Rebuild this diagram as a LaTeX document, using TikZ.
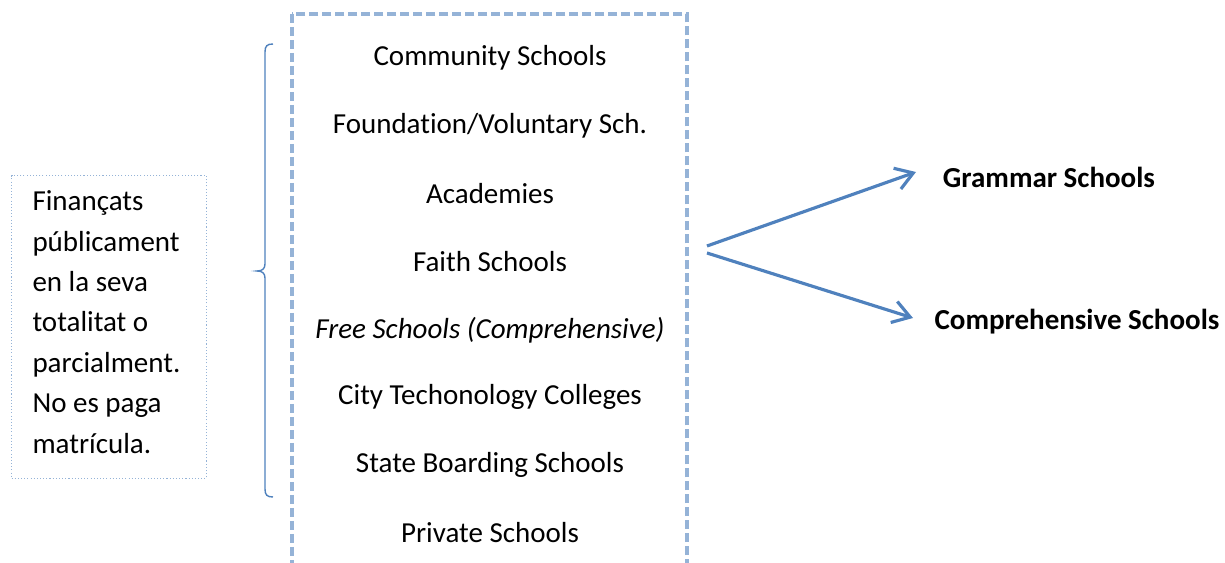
\documentclass[tikz,border=0pt]{standalone}
\usepackage{fontspec}
\setmainfont{Carlito}[Ligatures={NoCommon,NoContextual},Contextuals=NoAlternate]
\usetikzlibrary{arrows.meta}
\definecolor{accblue}{RGB}{79,129,189}
\definecolor{lightblue}{RGB}{149,179,215}
\begin{document}
\begin{tikzpicture}[x=0.02cm,y=-0.02cm,
	every node/.style={font=\fontsize{16.5}{23}\selectfont,inner sep=0pt},
	dashbox/.style={draw=lightblue,line width=2.2pt,dash pattern=on 0.18cm off 0.08cm},
	dotbox/.style={draw=lightblue,line width=0.6pt,dash pattern=on 0.6pt off 1.2pt},
	arr/.style={draw=accblue,line width=1.8pt,-{Straight Barb[length=0.34cm,width=0.44cm,line width=1.8pt]}},
	brace/.style={draw=accblue,line width=0.8pt}]
	\clip (0,0) rectangle (1225,563); %Seitengroesse
	%\draw[step=50,gray!20] (0,0) grid (1225,563);
	\draw[dashbox] (292,14) rectangle (687,620);
	\node (cs) at (490,58) {Community Schools};
	\node (fs) at (490,126) {Foundation/Voluntary Sch.};
	\node (ac) at (490,194) {Academies};
	\node (fa) at (490,262) {Faith Schools};
	\node (fr) at (490,330) {\itshape Free Schools (Comprehensive)};
	\node (ct) at (490,397) {City Techonology Colleges};
	\node (sb) at (490,465) {State Boarding Schools};
	\node (ps) at (490,533) {Private Schools};
	\node[dotbox,anchor=north west,align=flush left,text width=3.06cm,minimum height=6.06cm,inner xsep=0.42cm] (fin) at (11,175)
		{Finançats\\públicament\\en la seva\\totalitat o\\parcialment.\\No es paga\\matrícula.\vspace{0.2cm}};
	\draw[brace] (273,44) .. controls (267,44) and (265,46) .. (265,52) -- (265,264) .. controls (265,269) and (262,271) .. (257,271) .. controls (262,271) and (265,273) .. (265,278) -- (265,489) .. controls (265,495) and (267,497) .. (273,497);
	\node[font=\fontsize{16.5}{23}\selectfont\bfseries] (gram) at (1049,177) {Grammar Schools};
	\node[font=\fontsize{16.5}{23}\selectfont\bfseries] (comp) at (1077,322) {Comprehensive Schools};
	\coordinate (forka) at (707,246); \coordinate (forkb) at (707,253);
	\coordinate (gtip) at (916,172); \coordinate (ctip) at (913,318);
	\draw[arr] (forka) -- (gtip);
	\draw[arr] (forkb) -- (ctip);
\end{tikzpicture}
\end{document}
